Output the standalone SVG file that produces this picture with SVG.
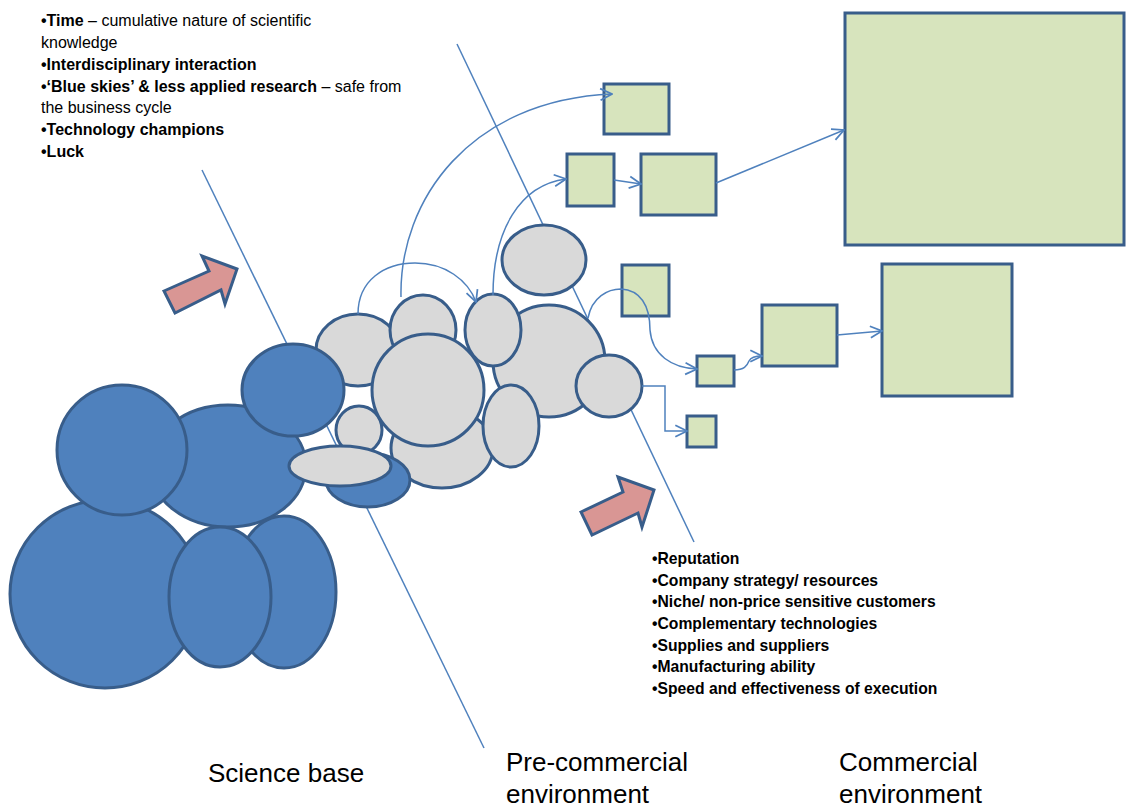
<svg xmlns="http://www.w3.org/2000/svg" width="1126" height="809" viewBox="0 0 1126 809">
<defs>
<marker id="arr" markerUnits="userSpaceOnUse" markerWidth="14" markerHeight="14" viewBox="0 0 12 12" refX="11" refY="6" orient="auto">
<path d="M1,1 L11,6 L1,11" fill="none" stroke="#4f81bd" stroke-width="1.5"/>
</marker>
<style>
.blue{fill:#4f81bd;stroke:#385d8a;stroke-width:3}
.grey{fill:#d9d9d9;stroke:#385d8a;stroke-width:3}
.green{fill:#d7e4bd;stroke:#385d8a;stroke-width:3}
.pink{fill:#d99694;stroke:#385d8a;stroke-width:3;stroke-linejoin:miter}
.thin{fill:none;stroke:#4f81bd;stroke-width:1.5}
.con{fill:none;stroke:#4f81bd;stroke-width:1.5;marker-end:url(#arr)}
.t{font-family:"Liberation Sans",Arial,sans-serif;font-size:16px;fill:#000}
.t2{font-family:"Liberation Sans",Arial,sans-serif;font-size:15.7px;fill:#000;font-weight:bold}
.b{font-weight:bold}
.lab{font-family:"Liberation Sans",Arial,sans-serif;font-size:26px;fill:#000}
</style>
</defs>
<rect width="1126" height="809" fill="#fff"/>

<g id="dividers">
<line class="thin" x1="202" y1="170" x2="484" y2="748"/>
<line class="thin" x1="457" y1="44" x2="694" y2="542"/>
</g>

<g id="grey-cluster">
<ellipse id="g-a" class="grey" cx="358" cy="350" rx="42" ry="36"/>
<ellipse id="g-b" class="grey" cx="423" cy="330" rx="33" ry="35"/>
<ellipse id="g-d" class="grey" cx="442" cy="448" rx="51" ry="40"/>
<ellipse id="g-e" class="grey" cx="359" cy="430" rx="23" ry="24"/>
<ellipse id="g-c" class="grey" cx="428" cy="390" rx="56" ry="56"/>
<ellipse id="g-h" class="grey" cx="549" cy="361" rx="56" ry="56"/>
<ellipse id="g-g" class="grey" cx="493" cy="330" rx="28" ry="36"/>
<ellipse id="g-i" class="grey" cx="511" cy="426" rx="28" ry="41"/>
<ellipse id="g-j" class="grey" cx="609" cy="386" rx="33" ry="31"/>
<ellipse id="g-k" class="grey" cx="544" cy="260" rx="42" ry="35"/>
</g>

<g id="science-base">
<ellipse id="b-big" class="blue" cx="105" cy="594" rx="95" ry="94"/>
<ellipse id="b-mid" class="blue" cx="228" cy="466" rx="78" ry="61"/>
<ellipse id="b-ul" class="blue" cx="122" cy="450" rx="65" ry="65"/>
<ellipse id="b-right" class="blue" cx="284" cy="592" rx="52" ry="76"/>
<ellipse id="b-front" class="blue" cx="220" cy="597" rx="51" ry="70"/>
<ellipse id="b-upper" class="blue" cx="293" cy="390" rx="51" ry="46"/>
<ellipse id="b-small" class="blue" cx="368" cy="480" rx="42" ry="27"/>
</g>
<ellipse id="g-f" class="grey" cx="340" cy="466" rx="51" ry="20"/>

<g id="products">
<rect id="r1" class="green" x="604" y="84" width="65" height="50"/>
<rect id="r2" class="green" x="567" y="154" width="47" height="52"/>
<rect id="r3" class="green" x="641" y="154" width="75" height="61"/>
<rect id="r4" class="green" x="845" y="13" width="279" height="232"/>
<rect id="r5" class="green" x="622" y="265" width="47" height="51"/>
<rect id="r6" class="green" x="697" y="356" width="37" height="30"/>
<rect id="r7" class="green" x="762" y="305" width="75" height="61"/>
<rect id="r8" class="green" x="687" y="416" width="29" height="31"/>
<rect id="r9" class="green" x="882" y="264" width="130" height="132"/>
</g>

<g id="connectors">
<path class="con" d="M401,297 C399,200 470,100 612,94"/>
<path class="con" d="M358,314 C358,280 385,263 415,263 C445,263 468,280 476,302"/>
<path class="con" d="M493,295 C493,230 520,185 566,179"/>
<path class="con" d="M614,180 L641,184"/>
<path class="con" d="M716,183 L844,130"/>
<path class="con" d="M588,318 C592,297 608,289 621,289 C640,290 650,305 650,330 C652,355 672,368 697,369"/>
<path class="con" d="M734,370 C744,370 747,366 749,361 C751,357 755,356 762,356"/>
<path class="con" d="M837,335 L882,331"/>
<path class="con" d="M642,386 L665,386 L665,431 L687,431"/>
</g>

<g id="push-arrows">
<polygon class="pink" points="164,291 209,271 202,256 237,269 225,304 221,290 175,313"/>
<polygon class="pink" points="581,512 623,492 618,477 654,490 642,527 638,513 592,535"/>
</g>

<g id="science-factors">
<text class="t" x="41" y="26"><tspan class="b">•Time</tspan> – cumulative nature of scientific</text>
<text class="t" x="41" y="48">knowledge</text>
<text class="t b" x="41" y="70">•Interdisciplinary interaction</text>
<text class="t" x="41" y="92"><tspan class="b">•‘Blue skies’ &amp; less applied research</tspan> – safe from</text>
<text class="t" x="41" y="113">the business cycle</text>
<text class="t b" x="41" y="135">•Technology champions</text>
<text class="t b" x="41" y="157">•Luck</text>
</g>

<g id="commercial-factors">
<text class="t2" x="652" y="564">•Reputation</text>
<text class="t2" x="652" y="586">•Company strategy/ resources</text>
<text class="t2" x="652" y="607">•Niche/ non-price sensitive customers</text>
<text class="t2" x="652" y="629">•Complementary technologies</text>
<text class="t2" x="652" y="651">•Supplies and suppliers</text>
<text class="t2" x="652" y="672">•Manufacturing ability</text>
<text class="t2" x="652" y="694">•Speed and effectiveness of execution</text>
</g>

<g id="stage-labels">
<text class="lab" x="208" y="782">Science base</text>
<text class="lab" x="506" y="771">Pre-commercial</text>
<text class="lab" x="506" y="803">environment</text>
<text class="lab" x="839" y="771">Commercial</text>
<text class="lab" x="839" y="803">environment</text>
</g>
</svg>
